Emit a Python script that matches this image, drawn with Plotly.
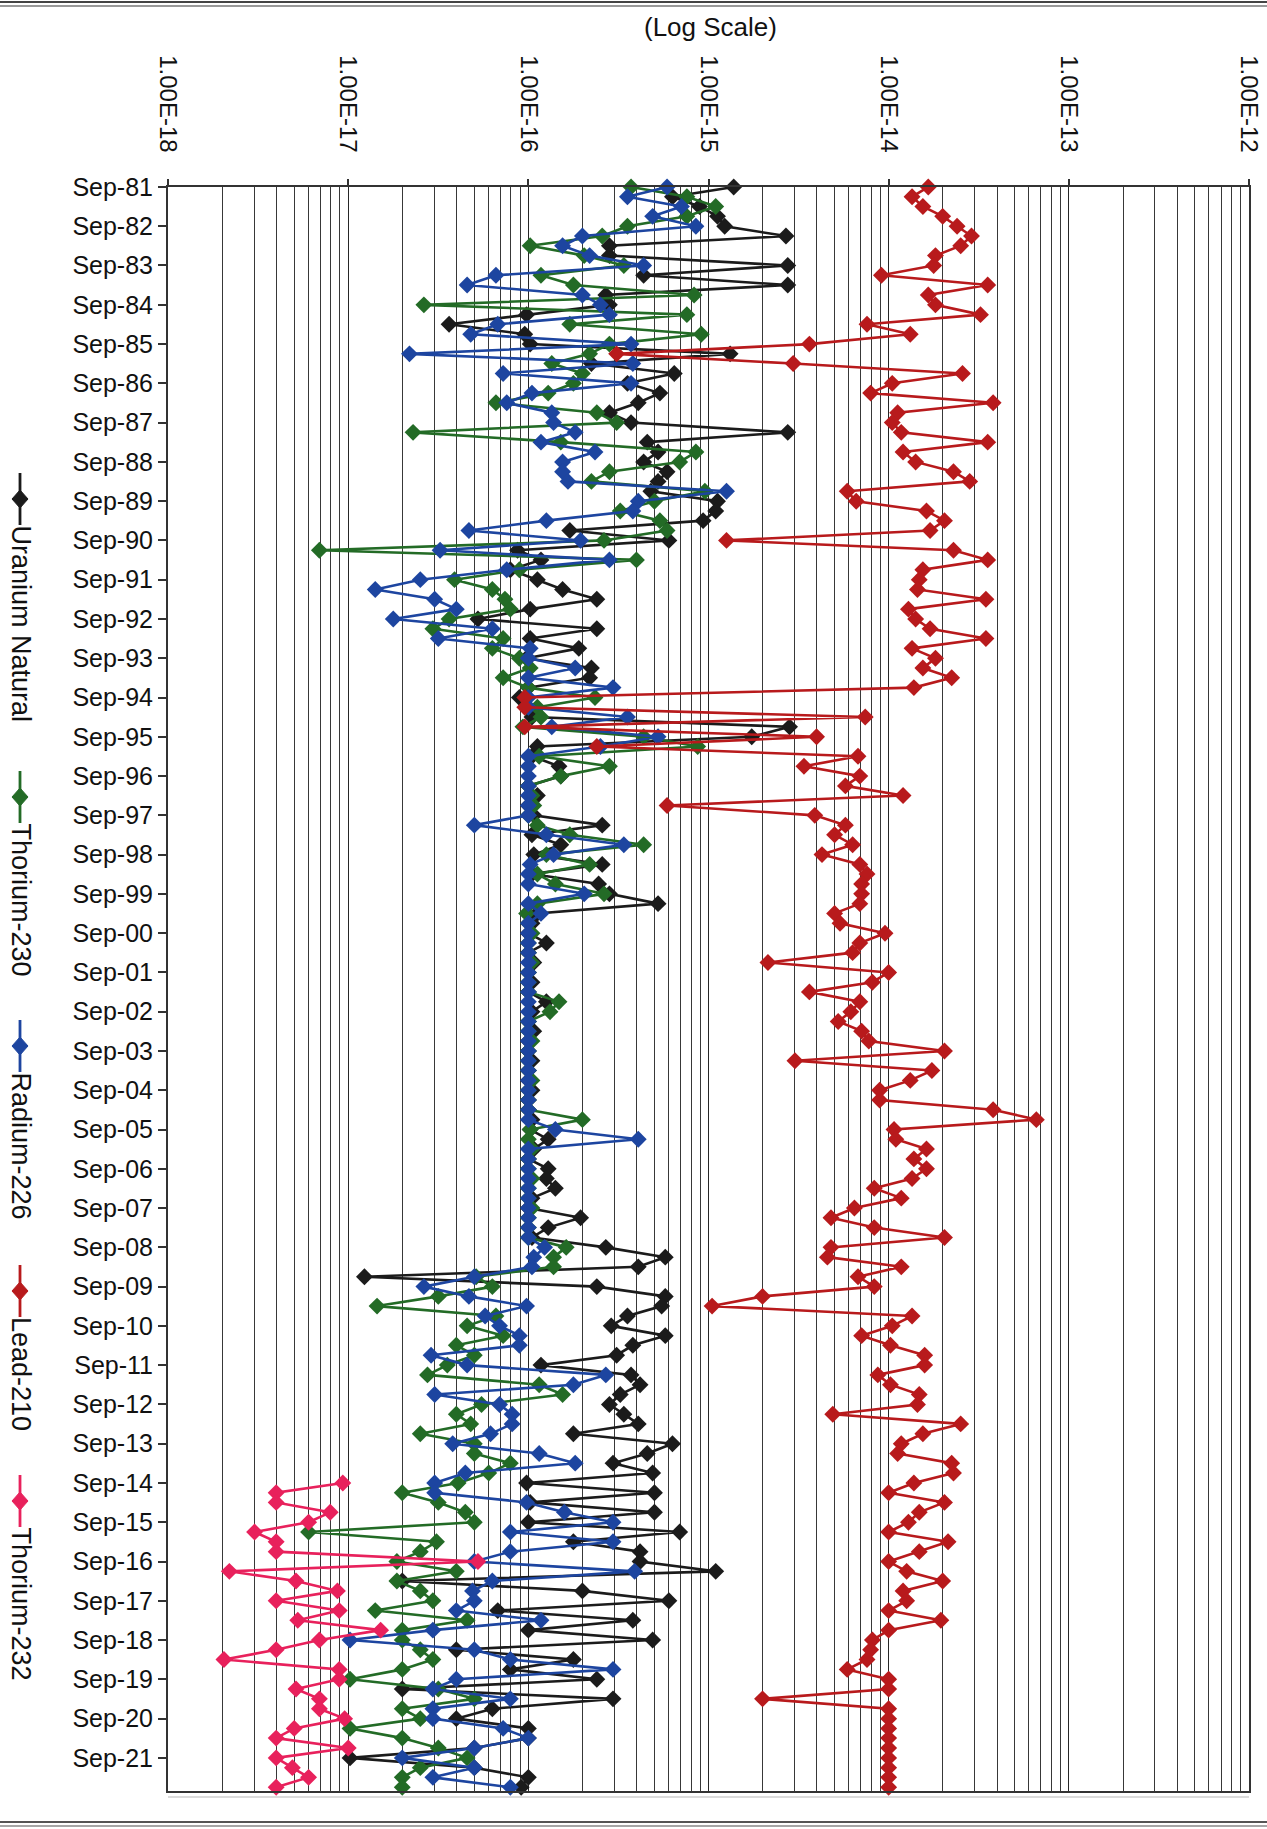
import numpy as np
import pandas as pd
import plotly.graph_objects as go

# ---------------- data (log10 of concentration) ----------------
sample_dates = pd.date_range("1981-09-15", periods=164, freq=pd.DateOffset(months=3))

uranium_log10 = [
    -14.86, -15.2, -15.05, -14.95, -14.91, -14.57, -15.55, -15.55, -14.56, -15.36,
    -14.56, -15.57, -15.55, -16.01, -16.44, -16.02, -15.99, -14.88, -15.65, -15.19,
    -15.45, -15.27, -15.39, -15.55, -15.43, -14.56, -15.34, -15.28, -15.36, -15.23,
    -15.28, -15.32, -14.95, -14.96, -15.03, -15.77, -15.22, -16.06, -15.93, -16.1,
    -15.95, -15.81, -15.62, -15.99, -16.28, -15.62, -15.99, -15.72, -16.01, -15.65,
    -15.66, -16.0, -16.05, -16.0, -15.98, -14.55, -14.76, -15.95, -15.98, -15.83,
    -15.82, -16.0, -15.95, -16.0, -15.97, -15.59, -15.98, -15.82, -15.97, -15.59,
    -15.98, -15.61, -15.55, -15.28, -15.95, -15.98, -16.0, -15.90, -16.0, -15.97,
    -16.0, -15.98, -16.0, -15.90, -15.98, -16.0, -15.97, -16.0, -16.0, -15.98,
    -16.0, -16.0, -15.98, -16.0, -16.0, -15.98, -15.99, -15.89, -15.97, -16.0,
    -15.89, -15.90, -15.85, -15.98, -16.0, -15.71, -15.89, -15.98, -15.57, -15.24,
    -15.39, -16.91, -15.62, -15.24, -15.26, -15.45, -15.54, -15.24, -15.42, -15.51,
    -15.93, -15.43, -15.38, -15.49, -15.55, -15.47, -15.39, -15.75, -15.20, -15.34,
    -15.53, -15.31, -16.01, -15.30, -15.99, -15.30, -16.0, -15.16, -15.75, -15.38,
    -15.38, -14.96, -16.70, -15.70, -15.22, -16.17, -15.42, -16.0, -15.31, -16.40,
    -15.75, -16.1, -15.62, -16.70, -15.53, -16.2, -16.40, -16.0, -16.0, -16.3,
    -16.99, -16.3, -16.0, -16.04,
]

thorium230_log10 = [
    -15.43, -15.12, -14.96, -15.12, -15.45, -15.59, -15.99, -15.69, -15.47, -15.93,
    -15.75, -15.08, -16.58, -15.12, -15.77, -15.04, -15.55, -15.66, -15.87, -15.7,
    -15.75, -15.89, -16.18, -15.62, -15.51, -16.64, -15.82, -15.07, -15.16, -15.55,
    -15.65, -15.02, -15.3, -15.49, -15.27, -15.23, -15.58, -17.16, -15.40, -16.05,
    -16.41, -16.2, -16.13, -16.1, -16.44, -16.53, -16.14, -16.2, -16.05, -15.99,
    -16.14, -16.0, -15.63, -15.95, -15.93, -16.03, -15.36, -15.06, -15.94, -15.55,
    -15.82, -16.0, -15.98, -15.97, -16.0, -15.95, -15.77, -15.36, -15.9, -15.66,
    -15.95, -15.85, -15.58, -15.95, -16.01, -16.0, -15.98, -16.0, -16.0, -15.98,
    -16.0, -16.0, -16.0, -15.83, -15.88, -16.0, -16.0, -15.98, -16.0, -16.0,
    -16.0, -15.98, -16.0, -16.0, -16.0, -15.70, -15.99, -16.0, -15.98, -16.0,
    -16.0, -15.98, -16.0, -16.0, -15.98, -16.0, -16.0, -16.0, -15.79, -15.86,
    -15.86, -16.29, -16.2, -16.5, -16.84, -16.18, -16.34, -16.14, -16.40, -16.3,
    -16.45, -16.56, -15.94, -15.81, -16.26, -16.40, -16.32, -16.60, -16.3, -16.30,
    -16.10, -16.22, -16.39, -16.70, -16.5, -16.35, -16.30, -17.22, -16.51, -16.6,
    -16.73, -16.40, -16.73, -16.6, -16.53, -16.85, -16.34, -16.70, -16.70, -16.6,
    -16.53, -16.7, -16.99, -16.5, -16.30, -16.70, -16.6, -16.99, -16.70, -16.5,
    -16.34, -16.6, -16.70, -16.70,
]

radium226_log10 = [
    -15.23, -15.45, -15.15, -15.31, -15.07, -15.70, -15.81, -15.66, -15.36, -16.18,
    -16.34, -15.70, -15.6, -15.55, -16.17, -16.32, -15.43, -16.66, -15.42, -16.14,
    -15.43, -15.98, -16.12, -15.87, -15.86, -15.74, -15.93, -15.63, -15.81, -15.81,
    -15.78, -14.90, -15.39, -15.42, -15.9, -16.33, -15.71, -16.49, -15.55, -16.12,
    -16.60, -16.85, -16.52, -16.4, -16.75, -16.20, -16.50, -15.99, -16.0, -15.74,
    -16.0, -15.53, -16.0, -16.0, -15.45, -15.87, -15.28, -15.6, -16.0, -16.0,
    -16.0, -16.0, -16.0, -16.0, -16.0, -16.30, -15.90, -15.47, -15.86, -15.99,
    -16.0, -16.0, -15.69, -16.0, -15.93, -16.0, -16.0, -16.0, -16.0, -16.0,
    -16.0, -16.0, -16.0, -16.0, -16.0, -16.0, -16.0, -16.0, -16.0, -16.0,
    -16.0, -16.0, -16.0, -16.0, -16.0, -16.0, -15.85, -15.39, -16.0, -16.0,
    -16.0, -16.0, -16.0, -16.0, -16.0, -16.0, -16.0, -16.0, -15.91, -15.97,
    -15.98, -16.30, -16.58, -16.33, -16.01, -16.24, -16.16, -16.05, -16.05, -16.54,
    -16.34, -15.57, -15.75, -16.52, -16.16, -16.09, -16.09, -16.21, -16.42, -15.94,
    -15.74, -16.35, -16.52, -16.52, -16.01, -15.8, -15.53, -16.10, -15.53, -16.10,
    -16.30, -15.41, -16.2, -16.31, -16.30, -16.40, -15.93, -16.53, -16.99, -16.3,
    -16.10, -15.53, -16.40, -16.53, -16.10, -16.53, -16.53, -16.14, -16.0, -16.3,
    -16.70, -16.30, -16.53, -16.10,
]

lead210_log10 = [
    -13.78, -13.87, -13.81, -13.70, -13.62, -13.54, -13.60, -13.74, -13.75, -14.04,
    -13.45, -13.78, -13.74, -13.49, -14.12, -13.88, -14.44, -15.51, -14.53, -13.59,
    -13.98, -14.10, -13.42, -13.95, -13.98, -13.93, -13.45, -13.92, -13.85,
    -13.64, -13.55, -14.23, -14.18, -13.79, -13.69, -13.77, -14.90, -13.64, -13.45,
    -13.81, -13.83, -13.84, -13.46, -13.89, -13.85, -13.77, -13.46, -13.87, -13.74,
    -13.81, -13.65, -13.86, -16.02, -16.02, -14.13, -16.02,
    -14.40, -15.62, -14.17, -14.47, -14.16, -14.24, -13.92, -15.23, -14.41, -14.24,
    -14.30, -14.20, -14.37, -14.16, -14.12, -14.15, -14.15, -14.16, -14.30, -14.27,
    -14.02, -14.16, -14.20, -14.67, -14.00,
    -14.09, -14.44, -14.16, -14.21, -14.28, -14.15, -14.11, -13.69, -14.52, -13.76,
    -13.88, -14.05, -14.05, -13.42, -13.18, -13.97, -13.96, -13.79, -13.86, -13.79,
    -13.87, -14.08, -13.93, -14.19, -14.32, -14.08, -13.69, -14.32,
    -14.34, -13.93, -14.17, -14.08, -14.70, -14.98, -13.87, -13.98, -14.15, -13.99,
    -13.80, -13.80, -14.06, -13.99, -13.83, -13.84, -14.31, -13.60, -13.81, -13.93,
    -13.95, -13.65, -13.64, -13.86, -14.00, -13.69,
    -13.83, -13.89, -14.0, -13.67, -13.83, -14.0, -13.90, -13.70, -13.92, -13.90,
    -14.0, -13.71, -14.0, -14.09, -14.10, -14.12, -14.23, -14.0, -14.0, -14.70,
    -14.0, -14.0, -14.0, -14.0, -14.0, -14.0, -14.0, -14.0, -14.0,
]

thorium232_log10 = [
    -17.03, -17.40, -17.40, -17.10, -17.22, -17.52, -17.40, -17.40, -16.28, -17.66,
    -17.29, -17.06, -17.40, -17.05, -17.28, -16.82, -17.16, -17.40, -17.69, -17.05,
    -17.05, -17.29, -17.16, -17.16, -17.02, -17.3, -17.40, -17.00, -17.40, -17.31,
    -17.22, -17.40,
]
thorium232_start = 132  # first quarter with Thorium-232 results (Sep-14)

series_names = ["Uranium Natural", "Thorium-230", "Radium-226", "Lead-210", "Thorium-232"]
series_colors = ["#1b1b1b", "#236b26", "#1d45a0", "#b81a1c", "#e8215c"]

decade_ticks = [1e-18, 1e-17, 1e-16, 1e-15, 1e-14, 1e-13, 1e-12]
decade_labels = ["1.00E-18", "1.00E-17", "1.00E-16", "1.00E-15", "1.00E-14", "1.00E-13", "1.00E-12"]
year_ticks = pd.date_range("1981-09-15", "2021-09-15", freq=pd.DateOffset(years=1))
year_labels = [d.strftime("%b-%y") for d in year_ticks]

# ---------------- figure ----------------
W, H = 1267, 1829
ML, MR, MT, MB = 168, 18, 187, 38
PW, PH = W - ML - MR, H - MT - MB


def px(xp):
    return (xp - ML) / PW


def py(yp):
    return (H - MB - yp) / PH


series_data = [
    (uranium_log10, sample_dates),
    (thorium230_log10, sample_dates),
    (radium226_log10, sample_dates),
    (lead210_log10, sample_dates),
    (thorium232_log10, sample_dates[thorium232_start:thorium232_start + len(thorium232_log10)]),
]

fig = go.Figure()
for (vals, dates), name, color in zip(series_data, series_names, series_colors):
    n = min(len(vals), len(dates))
    fig.add_trace(go.Scatter(
        x=10.0 ** np.array(vals[:n]), y=dates[:n], name=name, mode="lines+markers",
        line=dict(color=color, width=2.6),
        marker=dict(symbol="diamond", size=13, color=color, line=dict(width=0)),
        cliponaxis=False,
    ))

minor_vals = [m * 10.0 ** e for e in range(-18, -12) for m in range(2, 10)]

fig.update_layout(
    width=W, height=H,
    margin=dict(l=ML, r=MR, t=MT, b=MB, pad=0, autoexpand=False),
    paper_bgcolor="white", plot_bgcolor="white",
    showlegend=False,
    font=dict(family="Arial, Liberation Sans, sans-serif", color="#111", size=25),
    xaxis=dict(
        type="log", range=[-18.0005, -11.9995], side="top", automargin=False,
        tickmode="array", tickvals=decade_ticks, ticktext=decade_labels,
        tickangle=90, tickfont=dict(size=24, color="#111"),
        ticks="outside", ticklen=6, tickcolor="#333", tickwidth=1.5,
        ticklabelstandoff=18, ticklabeloverflow="allow",
        showgrid=True, gridcolor="#262626", gridwidth=1.4,
        minor=dict(tickmode="array", tickvals=minor_vals, showgrid=True,
                   gridcolor="#383838", gridwidth=1.2, ticks=""),
        showline=True, linecolor="#333", linewidth=2, mirror=True, zeroline=False,
    ),
    yaxis=dict(
        type="date", range=["2022-07-20", "1981-09-15"], automargin=False,
        tickmode="array", tickvals=list(year_ticks), ticktext=year_labels,
        tickfont=dict(size=25, color="#111"),
        ticks="outside", ticklen=8, tickcolor="#333", tickwidth=1.5,
        showgrid=False, showline=True, linecolor="#333", linewidth=2, mirror=True,
        zeroline=False,
    ),
)

# title over the log axis
fig.add_annotation(x=px(710), y=py(27), xref="paper", yref="paper", text="(Log Scale)",
                   showarrow=False, xanchor="center", yanchor="middle",
                   font=dict(size=26, color="#111"))

# vertical legend on the left
legend_pos = [499, 797, 1046, 1291, 1501]
lx = 20
for name, color, ymk in zip(series_names, series_colors, legend_pos):
    fig.add_shape(type="line", xref="paper", yref="paper",
                  x0=px(lx), x1=px(lx), y0=py(ymk - 26), y1=py(ymk + 26),
                  line=dict(color=color, width=2.8))
    dx, dy = 8 / PW, 9 / PH
    cx, cy = px(lx), py(ymk)
    fig.add_shape(type="path", xref="paper", yref="paper",
                  path=f"M {cx},{cy + dy} L {cx + dx},{cy} L {cx},{cy - dy} L {cx - dx},{cy} Z",
                  fillcolor=color, line=dict(color=color, width=1))
    fig.add_annotation(x=px(lx + 1), y=py(ymk + 24), xref="paper", yref="paper", text=name,
                       textangle=90, showarrow=False, xanchor="center", yanchor="top",
                       font=dict(size=27, color="#111"))

# page frame lines
for yl, wdt, col in [(2, 2, "#444"), (6, 1.5, "#777"), (1797, 1.5, "#cfcfcf"),
                     (1822, 2, "#555"), (1826, 1.5, "#888")]:
    x0 = 0 if yl != 1797 else ML
    x1 = W if yl != 1797 else W - MR
    fig.add_shape(type="line", xref="paper", yref="paper",
                  x0=px(x0), x1=px(x1), y0=py(yl), y1=py(yl),
                  line=dict(color=col, width=wdt))

fig.write_html("out.html")
